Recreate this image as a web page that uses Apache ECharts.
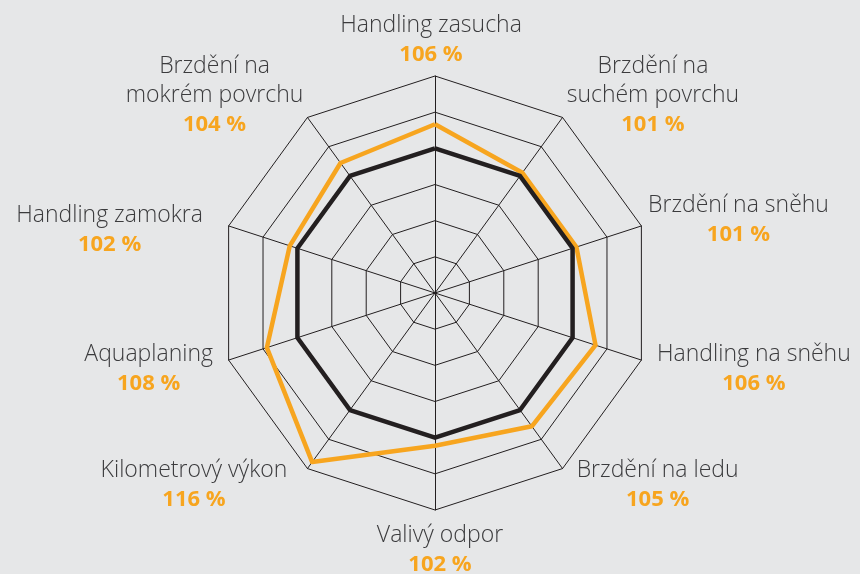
<!DOCTYPE html>
<html>
<head>
<meta charset="utf-8">
<script src="https://cdn.jsdelivr.net/npm/echarts@6/dist/echarts.min.js"></script>
<style>
  html, body { margin: 0; padding: 0; background: #e6e7e8; }
  #chart { width: 860px; height: 574px; }
</style>
</head>
<body>
<div id="chart"></div>
<script>
// categories, counterclockwise from the top (ECharts draws radar axes that way)
const categories = [
  "Handling zasucha",
  "Brzdění na\nmokrém povrchu",
  "Handling zamokra",
  "Aquaplaning",
  "Kilometrový výkon",
  "Valivý odpor",
  "Brzdění na ledu",
  "Handling na sněhu",
  "Brzdění na sněhu",
  "Brzdění na\nsuchém povrchu"
];
const tyreValues = [106, 104, 102, 108, 116, 102, 105, 106, 101, 101];
const referenceValues = [100, 100, 100, 100, 100, 100, 100, 100, 100, 100];

// small hand offsets [dx, dy] so the labels sit where the original has them
const labelNudge = [
  [-4, 0], [0, -16], [-19, 6], [-9, 7], [-16, 11],
  [5, 4], [10, 11], [9, 7], [0, -4], [0, -16]
];

const LINE_H = 29;
const rich = {};

categories.forEach((name, i) => {
  const ang = (90 + i * 360 / categories.length) * Math.PI / 180;
  const c = Math.cos(ang), s = Math.sin(ang);
  const [dx, dy] = labelNudge[i];
  let padL = 0, padR = 0;
  if (c > 0.01) padL = Math.max(dx, 0);
  else if (c < -0.01) padR = Math.max(-dx, 0);
  else { padL = Math.max(2 * dx, 0); padR = Math.max(-2 * dx, 0); }

  let top = 0, bottom = 0;
  if (Math.abs(c) > 0.01) {
    if (dy > 0) top = 2 * dy; else bottom = -2 * dy;
  } else if (s > 0) {
    bottom = Math.max(-dy, 0);
  } else {
    top = Math.max(dy, 0);
  }

  rich["n" + i] = {
    fontFamily: "Open Sans",
    fontWeight: 300,
    fontSize: 23,
    color: "#3b3b3d",
    lineHeight: LINE_H,
    align: "center",
    padding: [0, padR, 0, padL]
  };
  rich["v" + i] = {
    fontFamily: "Open Sans",
    fontWeight: "bold",
    fontSize: 22,
    color: "#f7a51f",
    lineHeight: LINE_H,
    align: "center",
    padding: [0, padR, 0, padL]
  };
  rich["t" + i] = { fontSize: 1, lineHeight: top || 0.01 };
  rich["b" + i] = { fontSize: 1, lineHeight: bottom || 0.01 };
});

const chart = echarts.init(document.getElementById("chart"));

chart.setOption({
  backgroundColor: "#e6e7e8",
  animation: false,
  radar: {
    center: [435, 293],
    radius: 217,
    startAngle: 90,
    shape: "polygon",
    splitNumber: 6,
    indicator: categories.map(name => ({ name: name, min: 64, max: 118 })),
    axisNameGap: 7,
    axisName: {
      formatter: (name) => {
        const i = categories.indexOf(name);
        const parts = [];
        if (rich["t" + i].lineHeight > 0.5) parts.push("{t" + i + "| }");
        name.split("\n").forEach(l => parts.push("{n" + i + "|" + l + "}"));
        parts.push("{v" + i + "|" + tyreValues[i] + " %}");
        if (rich["b" + i].lineHeight > 0.5) parts.push("{b" + i + "| }");
        return parts.join("\n");
      },
      rich: rich
    },
    axisLine: { lineStyle: { color: "#231f20", width: 1 } },
    splitLine: { lineStyle: { color: "#231f20", width: 1 } },
    splitArea: { show: false }
  },
  series: [
    {
      type: "radar",
      symbol: "none",
      data: [
        {
          value: tyreValues,
          lineStyle: { color: "#f7a51f", width: 4.5 }
        },
        {
          value: referenceValues,
          lineStyle: { color: "#231f20", width: 4.5 }
        }
      ]
    }
  ]
});
</script>
</body>
</html>
